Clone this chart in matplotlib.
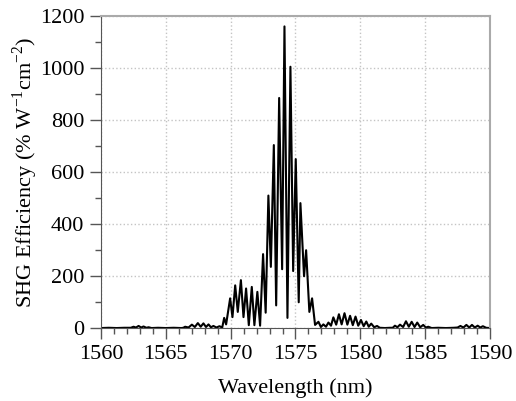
import matplotlib
matplotlib.use('Agg')
import matplotlib.pyplot as plt
from matplotlib.ticker import MultipleLocator

plt.rcParams['font.family'] = ['Liberation Serif', 'DejaVu Serif']
plt.rcParams['mathtext.fontset'] = 'custom'
plt.rcParams['mathtext.rm'] = 'Liberation Serif'

# SHG spectrum (wavelength nm, efficiency %/W/cm2)
wavelength = [
    1560.0, 1560.6, 1561.2, 1561.8, 1562.3, 1562.51, 1562.7, 1562.90, 1563.1,
    1563.28, 1563.5, 1563.67, 1563.9, 1564.4, 1565.0, 1565.6, 1566.2, 1566.35,
    1566.49, 1566.75, 1567.01, 1567.24, 1567.47, 1567.69, 1567.90, 1568.1,
    1568.29, 1568.48, 1568.67, 1568.9, 1569.14, 1569.35, 1569.50, 1569.65,
    1569.96, 1570.14, 1570.35, 1570.55, 1570.79, 1570.99, 1571.19, 1571.40,
    1571.63, 1571.83, 1572.06, 1572.27, 1572.50, 1572.70, 1572.91, 1573.10,
    1573.33, 1573.51, 1573.74, 1573.97, 1574.15, 1574.38, 1574.61, 1574.82,
    1575.02, 1575.25, 1575.38, 1575.66, 1575.82, 1576.07, 1576.28, 1576.51,
    1576.77, 1576.96, 1577.15, 1577.35, 1577.54, 1577.74, 1577.92, 1578.14,
    1578.35, 1578.56, 1578.78, 1579.0, 1579.21, 1579.42, 1579.63, 1579.84,
    1580.05, 1580.26, 1580.46, 1580.65, 1580.84, 1581.07, 1581.29, 1581.5,
    1581.9, 1582.3, 1582.5, 1582.67, 1582.86, 1583.06, 1583.3, 1583.52,
    1583.74, 1583.96, 1584.18, 1584.39, 1584.62, 1584.85, 1585.05, 1585.24,
    1585.5, 1586.0, 1586.6, 1587.2, 1587.5, 1587.72, 1587.95, 1588.18, 1588.4,
    1588.61, 1588.83, 1589.05, 1589.25, 1589.45, 1589.7, 1590.0,
]
efficiency = [
    1, 2, 1, 2, 2, 6, 3, 9, 3,
    7, 2, 4, 1, 2, 1, 2, 1, 2,
    6, 3, 14, 5, 20, 6, 19, 5,
    15, 4, 9, 3, 8, 3, 40, 15,
    115, 43, 165, 63, 185, 43, 153, 12,
    159, 12, 140, 10, 285, 60, 510, 236,
    704, 88, 885, 227, 1160, 40, 1005, 220,
    650, 100, 481, 200, 300, 63, 115, 13,
    25, 5, 15, 6, 22, 10, 42, 14,
    54, 15, 58, 14, 48, 12, 45, 10,
    32, 8, 26, 6, 18, 4, 9, 2,
    1, 2, 2, 10, 4, 14, 5, 27,
    6, 25, 5, 22, 4, 13, 3, 6,
    1, 2, 1, 2, 3, 9, 3, 13, 3,
    13, 3, 10, 3, 8, 2, 1,
]

fig = plt.figure(figsize=(5.16, 4.01), dpi=100)
ax = fig.add_axes([0.1957, 0.1813, 0.7539, 0.7788])

ax.plot(wavelength, efficiency, color='black', lw=1.5)

ax.set_xlim(1560, 1590)
ax.set_ylim(0, 1200)
ax.xaxis.set_major_locator(MultipleLocator(5))
ax.xaxis.set_minor_locator(MultipleLocator(1))
ax.yaxis.set_major_locator(MultipleLocator(200))
ax.yaxis.set_minor_locator(MultipleLocator(100))
ax.grid(True, which='major', linestyle=':', color='#c4c4c4', lw=1)

ax.tick_params(which='major', direction='out', length=8, width=1, color='#555555',
               labelsize=16, pad=4, top=False, right=False)
ax.tick_params(which='minor', direction='out', length=4, width=1, color='#555555',
               top=False, right=False)
for s in ['left', 'bottom']:
    ax.spines[s].set_color('#555555')
for s in ['top', 'right']:
    ax.spines[s].set_color('#aaaaaa')
    ax.spines[s].set_linewidth(1.5)

ax.set_xlabel('Wavelength (nm)', fontsize=16, labelpad=10)
ax.set_ylabel(r'SHG Efficiency (% W$^{\mathregular{-1}}$cm$^{\mathregular{-2}}$)',
              fontsize=16, labelpad=0)

fig.savefig('out.png', dpi=100)
